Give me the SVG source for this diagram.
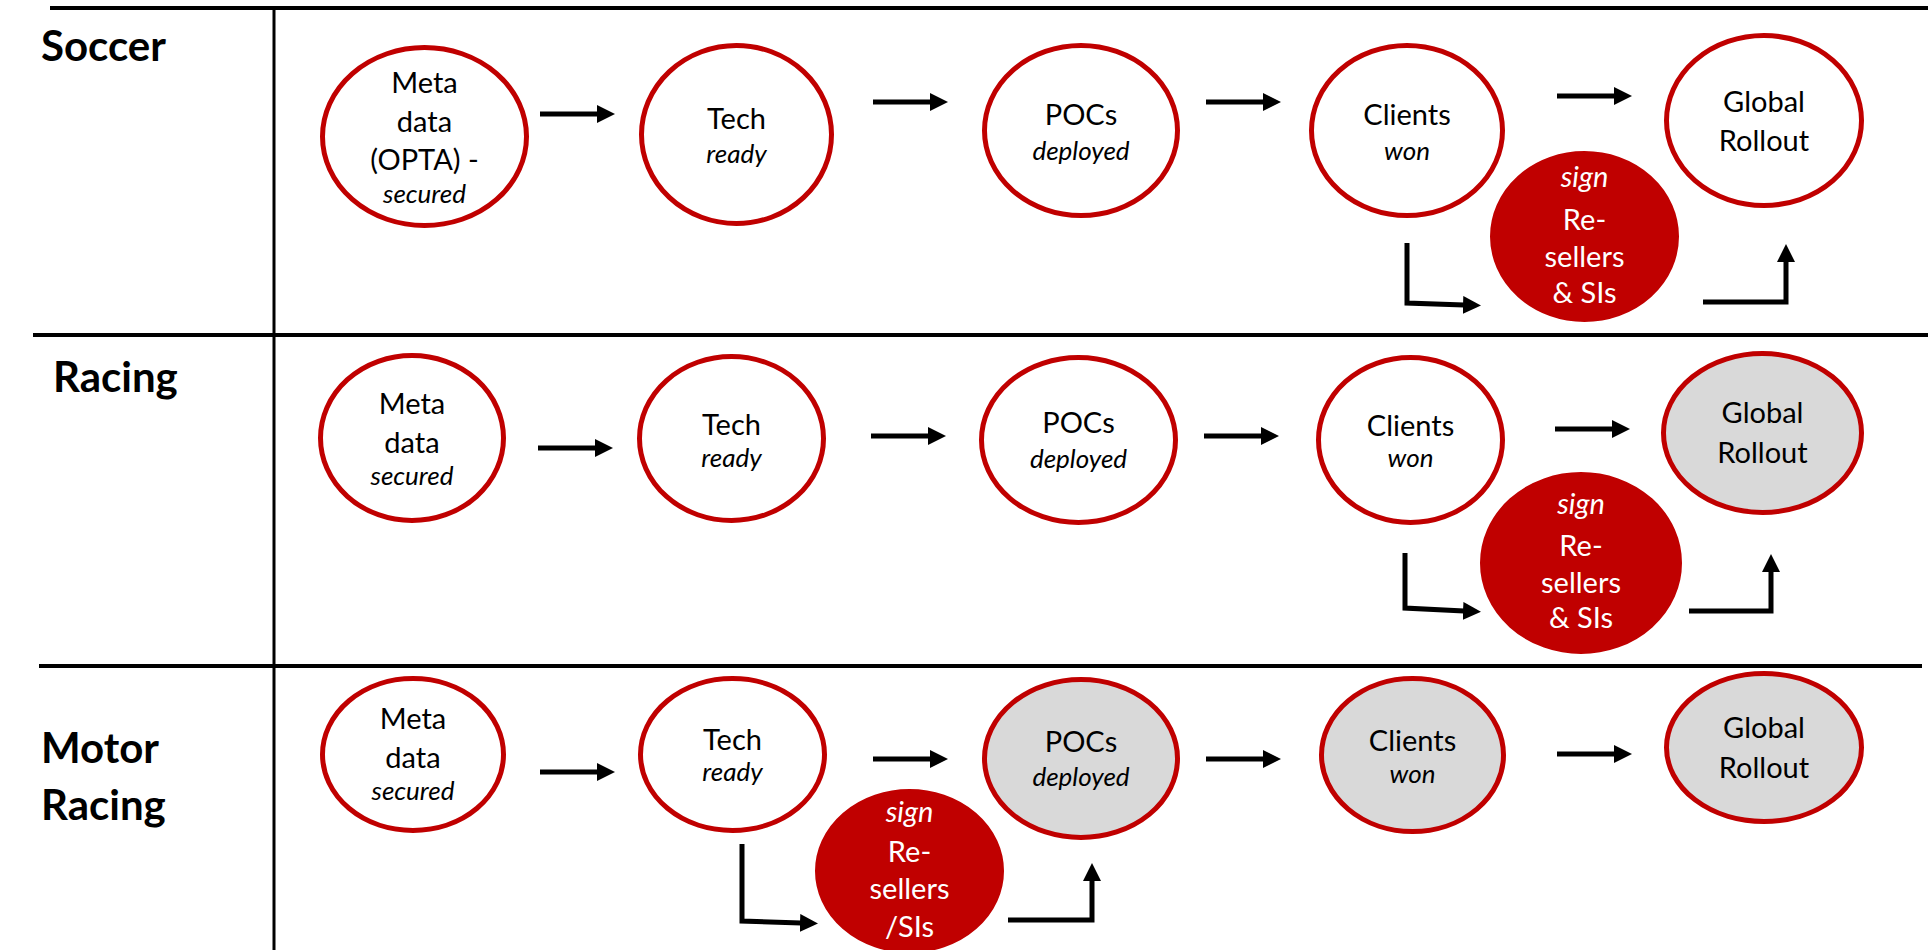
<svg xmlns="http://www.w3.org/2000/svg" width="1928" height="950" viewBox="0 0 1928 950">
<style>
.grid{stroke:#000;stroke-width:4;fill:none}
.hdr{font-family:Lato,"Liberation Sans",sans-serif;font-weight:bold;font-size:42px;fill:#000}
.n{fill:#fff;stroke:#C00000;stroke-width:5}
.g{fill:#D9D9D9;stroke:#C00000;stroke-width:5}
.s{fill:#C00000;stroke:#C00000;stroke-width:2}
.t{font-family:Lato,"Liberation Sans",sans-serif;font-size:29px;fill:#000;text-anchor:middle}
.i{font-family:Lato,"Liberation Sans",sans-serif;font-size:26px;font-style:italic;fill:#000;text-anchor:middle}
.w{fill:#fff}
.si{font-size:29px}
.a{stroke:#000;stroke-width:5;fill:none;marker-end:url(#ah)}
</style>
<defs>
<marker id="ah" markerUnits="userSpaceOnUse" markerWidth="20" markerHeight="18" refX="1" refY="9" orient="auto">
<path d="M0,0 L18,9 L0,18 z" fill="#000"/>
</marker>
</defs>
<g id="grid">
<line class="grid" x1="50" y1="8" x2="1928" y2="8"/>
<line class="grid" x1="33" y1="335" x2="1928" y2="335"/>
<line class="grid" x1="39" y1="666" x2="1922" y2="666"/>
<line class="grid" style="stroke-width:3" x1="274" y1="8" x2="274" y2="950"/>
</g>
<g id="labels">
<text class="hdr" x="41" y="61">Soccer</text>
<text class="hdr" x="53" y="392">Racing</text>
<text class="hdr" x="41" y="763">Motor</text>
<text class="hdr" x="41" y="820">Racing</text>
</g>
<g id="connectors">
<line class="a" x1="540" y1="114" x2="598" y2="114"/>
<line class="a" x1="873" y1="102" x2="931" y2="102"/>
<line class="a" x1="1206" y1="102" x2="1264" y2="102"/>
<line class="a" x1="1557" y1="96" x2="1615" y2="96"/>
<path class="a" d="M1407,243 L1407,303 L1464,305"/>
<path class="a" d="M1703,302 L1786,302 L1786,261"/>
<line class="a" x1="538" y1="448" x2="596" y2="448"/>
<line class="a" x1="871" y1="436" x2="929" y2="436"/>
<line class="a" x1="1204" y1="436" x2="1262" y2="436"/>
<line class="a" x1="1555" y1="429" x2="1613" y2="429"/>
<path class="a" d="M1405,553 L1405,608 L1464,611"/>
<path class="a" d="M1689,611 L1771,611 L1771,571"/>
<line class="a" x1="540" y1="772" x2="598" y2="772"/>
<line class="a" x1="873" y1="759" x2="931" y2="759"/>
<line class="a" x1="1206" y1="759" x2="1264" y2="759"/>
<line class="a" x1="1557" y1="754" x2="1615" y2="754"/>
<path class="a" d="M742,844 L742,921 L801,923"/>
<path class="a" d="M1008,920 L1092,920 L1092,880"/>
</g>
<g id="soccer-meta"><ellipse class="n" cx="424.5" cy="136.5" rx="102" ry="89"/>
<text class="t" x="424.5" y="93">Meta</text><text class="t" x="424.5" y="132">data</text><text class="t" x="424.5" y="170">(OPTA) -</text><text class="i" x="424.5" y="203">secured</text></g>
<g id="soccer-tech"><ellipse class="n" cx="736.5" cy="134.5" rx="95" ry="89"/>
<text class="t" x="736.5" y="129">Tech</text><text class="i" x="736.5" y="163">ready</text></g>
<g id="soccer-pocs"><ellipse class="n" cx="1081" cy="130.5" rx="96.5" ry="85"/>
<text class="t" x="1081" y="125">POCs</text><text class="i" x="1081" y="160">deployed</text></g>
<g id="soccer-clients"><ellipse class="n" cx="1407" cy="130.5" rx="95.5" ry="85"/>
<text class="t" x="1407" y="125">Clients</text><text class="i" x="1407" y="160">won</text></g>
<g id="soccer-global"><ellipse class="n" cx="1764" cy="120.5" rx="97.5" ry="85"/>
<text class="t" x="1764" y="112">Global</text><text class="t" x="1764" y="151">Rollout</text></g>
<g id="soccer-sign"><ellipse class="s" cx="1584.5" cy="236.5" rx="93.5" ry="84.5"/>
<text class="i w si" x="1584.5" y="187">sign</text><text class="t w" x="1584.5" y="230">Re-</text><text class="t w" x="1584.5" y="267">sellers</text><text class="t w" x="1584.5" y="303">&amp; SIs</text></g>

<g id="racing-meta"><ellipse class="n" cx="412" cy="438" rx="91.5" ry="82.5"/>
<text class="t" x="412" y="414">Meta</text><text class="t" x="412" y="453">data</text><text class="i" x="412" y="485">secured</text></g>
<g id="racing-tech"><ellipse class="n" cx="731.5" cy="438.5" rx="92" ry="82"/>
<text class="t" x="731.5" y="435">Tech</text><text class="i" x="731.5" y="467">ready</text></g>
<g id="racing-pocs"><ellipse class="n" cx="1078.5" cy="440" rx="97" ry="82.5"/>
<text class="t" x="1078.5" y="433">POCs</text><text class="i" x="1078.5" y="468">deployed</text></g>
<g id="racing-clients"><ellipse class="n" cx="1410.5" cy="440" rx="92" ry="82.5"/>
<text class="t" x="1410.5" y="436">Clients</text><text class="i" x="1410.5" y="467">won</text></g>
<g id="racing-global"><ellipse class="g" cx="1762.5" cy="433" rx="99" ry="79.5"/>
<text class="t" x="1762.5" y="423">Global</text><text class="t" x="1762.5" y="463">Rollout</text></g>
<g id="racing-sign"><ellipse class="s" cx="1581" cy="563" rx="100" ry="90"/>
<text class="i w si" x="1581" y="514">sign</text><text class="t w" x="1581" y="556">Re-</text><text class="t w" x="1581" y="593">sellers</text><text class="t w" x="1581" y="628">&amp; SIs</text></g>

<g id="motor-meta"><ellipse class="n" cx="413" cy="754.5" rx="90.5" ry="76"/>
<text class="t" x="413" y="729">Meta</text><text class="t" x="413" y="768">data</text><text class="i" x="413" y="800">secured</text></g>
<g id="motor-tech"><ellipse class="n" cx="732.5" cy="754.5" rx="92" ry="76"/>
<text class="t" x="732.5" y="750">Tech</text><text class="i" x="732.5" y="781">ready</text></g>
<g id="motor-pocs"><ellipse class="g" cx="1081" cy="758.5" rx="96.5" ry="79"/>
<text class="t" x="1081" y="752">POCs</text><text class="i" x="1081" y="786">deployed</text></g>
<g id="motor-clients"><ellipse class="g" cx="1412.5" cy="755" rx="91" ry="76.5"/>
<text class="t" x="1412.5" y="751">Clients</text><text class="i" x="1412.5" y="783">won</text></g>
<g id="motor-global"><ellipse class="g" cx="1764" cy="747.5" rx="97.5" ry="74"/>
<text class="t" x="1764" y="738">Global</text><text class="t" x="1764" y="778">Rollout</text></g>
<g id="motor-sign"><ellipse class="s" cx="909.5" cy="871" rx="93.5" ry="81"/>
<text class="i w si" x="909.5" y="822">sign</text><text class="t w" x="909.5" y="862">Re-</text><text class="t w" x="909.5" y="899">sellers</text><text class="t w" x="909.5" y="937">/SIs</text></g>
</svg>
